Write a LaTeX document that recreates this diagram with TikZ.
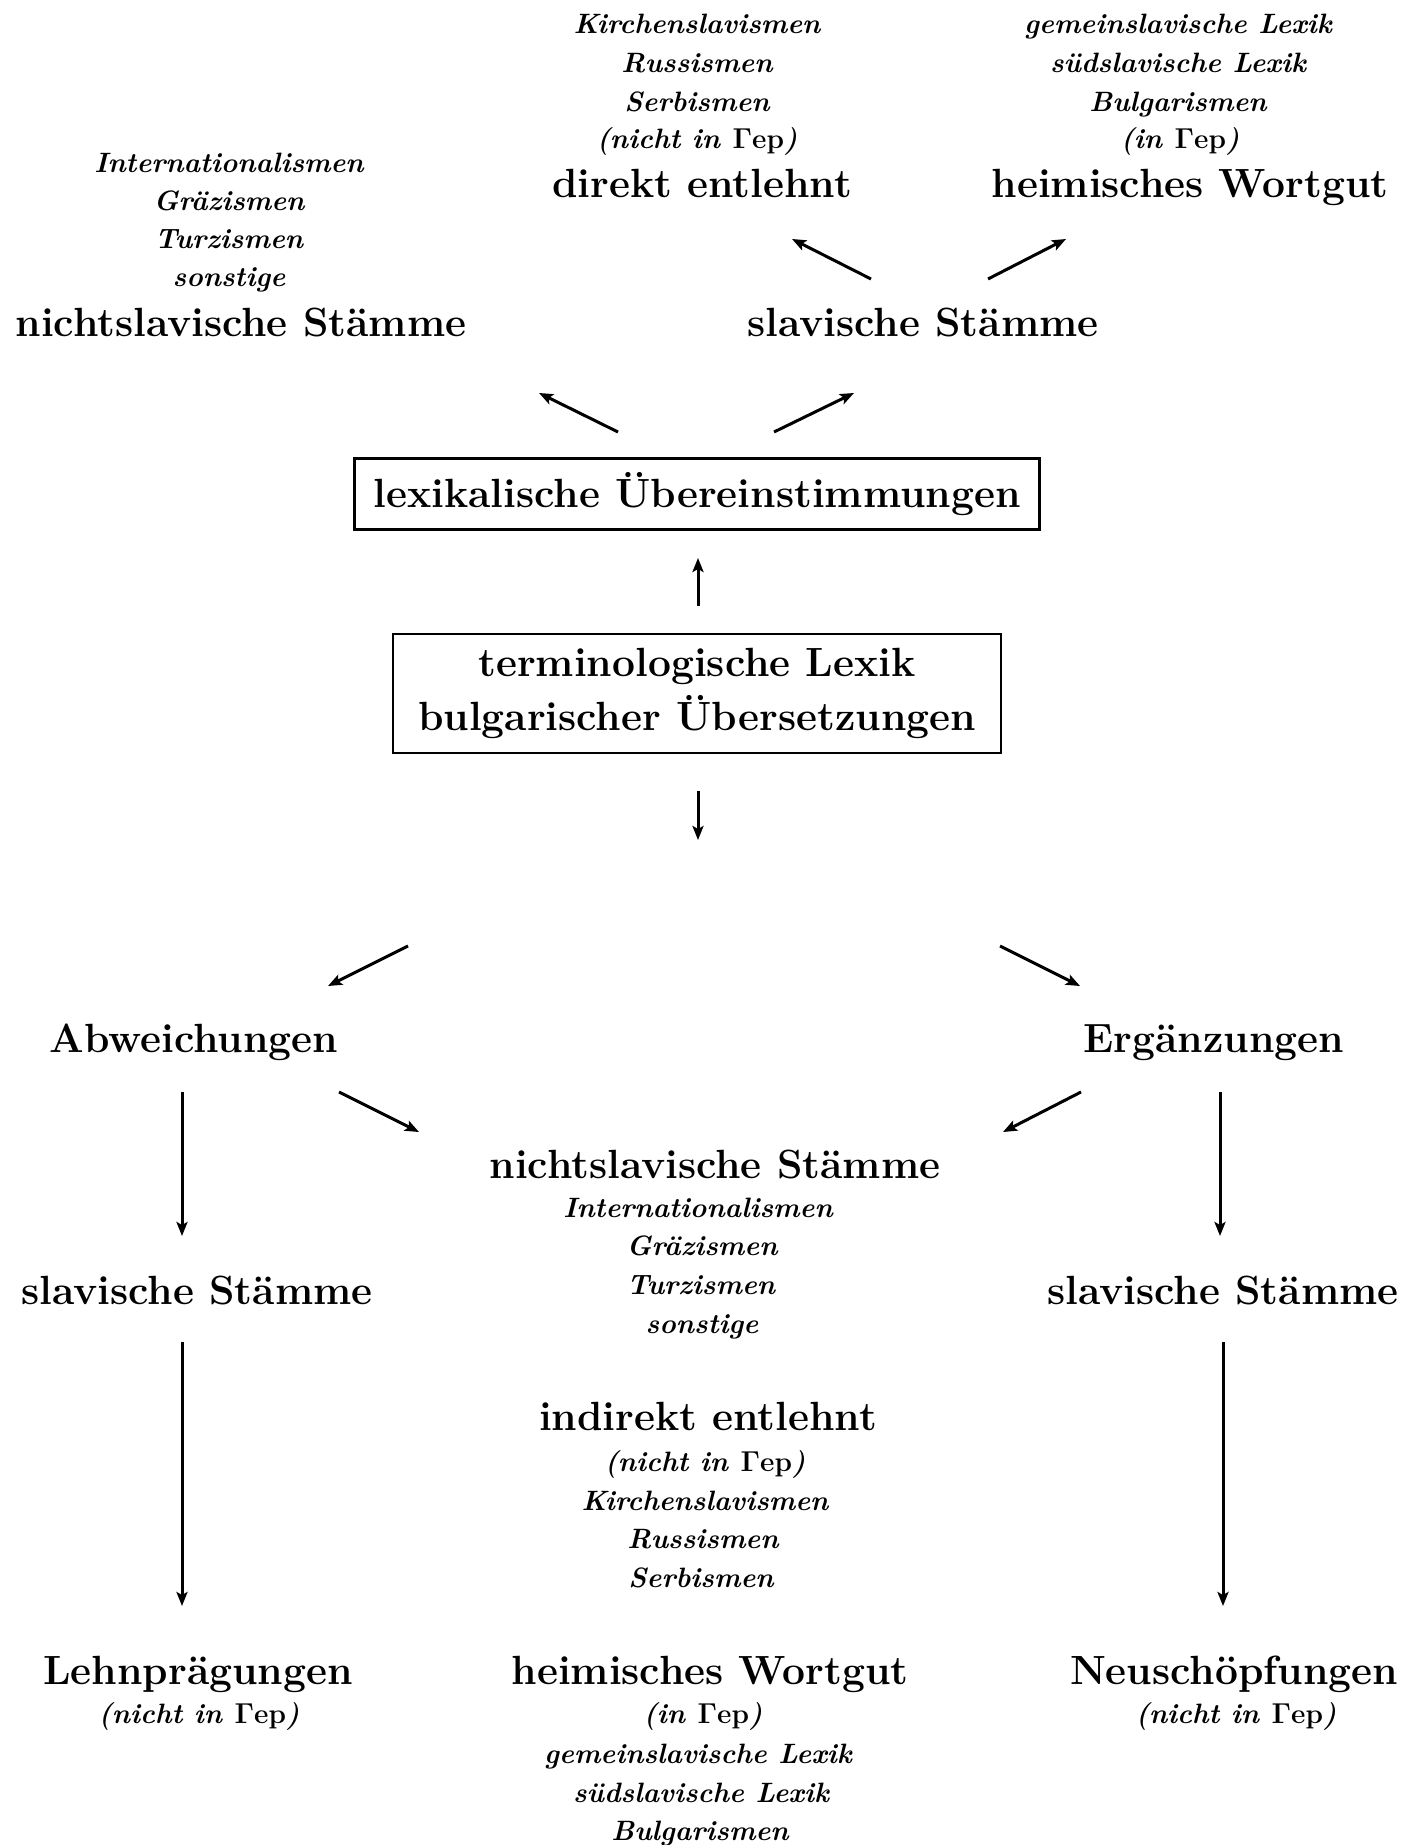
\documentclass[tikz,border=0pt]{standalone}
\usetikzlibrary{arrows.meta}
\newcommand{\Gep}{\textup{$\mathbf{\Gamma}$ep}}
\tikzset{
  big/.style={font=\fontsize{20.4}{24}\selectfont\bfseries, inner sep=0pt, anchor=base},
  small/.style={font=\fontsize{14}{17}\selectfont\bfseries\itshape, inner sep=0pt, anchor=base},
  box/.style={draw, line width=1.4pt, font=\fontsize{20.4}{27}\selectfont\bfseries,
    align=center, inner sep=0pt},
  arr/.style={-{Stealth[length=7pt,width=5.5pt,inset=1.5pt]}, line width=1.5pt},
}
\begin{document}
\begin{tikzpicture}[x=0.5pt, y=-0.5pt]
\useasboundingbox (0,0) rectangle (1418,1845);

% upper half: slavic / non-slavic stems
\node[small] (tl1) at (229,173) {Internationalismen};
\node[small] (tl2) at (229,211) {Gräzismen};
\node[small] (tl3) at (229,249) {Turzismen};
\node[small] (tl4) at (229,287) {sonstige};
\node[big]   (nsTop) at (241,337) {nichtslavische Stämme};

\node[small] (dm1) at (697,34)  {Kirchenslavismen};
\node[small] (dm2) at (697,73)  {Russismen};
\node[small] (dm3) at (697,112) {Serbismen};
\node[small] (dm4) at (697,149) {(nicht in \Gep)};
\node[big]   (direkt) at (702,198) {direkt entlehnt};

\node[small] (hr1) at (1178,34)  {gemeinslavische Lexik};
\node[small] (hr2) at (1178,73)  {südslavische Lexik};
\node[small] (hr3) at (1178,112) {Bulgarismen};
\node[small] (hr4) at (1180,149) {(in \Gep)};
\node[big]   (heimTop) at (1190,198) {heimisches Wortgut};

\node[big] (slTop) at (923,337) {slavische Stämme};

% boxes
\node[box, minimum width=342.5pt, minimum height=35.5pt] (lex) at (697,494)
  {lexikalische Übereinstimmungen};
\node[box, minimum width=304pt, minimum height=59.5pt] (term) at (697,693.5)
  {terminologische Lexik\\bulgarischer Übersetzungen};

% lower half
\node[big] (abw) at (194,1052) {Abweichungen};
\node[big] (erg) at (1214,1052) {Ergänzungen};

\node[big]   (nsMid) at (715,1178) {nichtslavische Stämme};
\node[small] (nm1) at (698,1217) {Internationalismen};
\node[small] (nm2) at (702,1255) {Gräzismen};
\node[small] (nm3) at (701,1294) {Turzismen};
\node[small] (nm4) at (702,1333) {sonstige};

\node[big] (slL) at (197,1304) {slavische Stämme};
\node[big] (slR) at (1223,1304) {slavische Stämme};

\node[big]   (indirekt) at (708,1430) {indirekt entlehnt};
\node[small] (im1) at (705,1471) {(nicht in \Gep)};
\node[small] (im2) at (705,1510) {Kirchenslavismen};
\node[small] (im3) at (703,1548) {Russismen};
\node[small] (im4) at (701,1587) {Serbismen};

\node[big]   (lehn) at (198,1684) {Lehnprägungen};
\node[small] (lehn1) at (199,1723) {(nicht in \Gep)};

\node[big]   (heimBot) at (710,1684) {heimisches Wortgut};
\node[small] (hb1) at (703,1723) {(in \Gep)};
\node[small] (hb2) at (698,1763) {gemeinslavische Lexik};
\node[small] (hb3) at (701,1802) {südslavische Lexik};
\node[small] (hb4) at (700,1840) {Bulgarismen};

\node[big]   (neu) at (1234,1684) {Neuschöpfungen};
\node[small] (neu1) at (1236,1723) {(nicht in \Gep)};

% arrow end points
\coordinate (s1) at (871,279);  \coordinate (e1) at (792,239);
\coordinate (s2) at (988,279);  \coordinate (e2) at (1066,239);
\coordinate (s3) at (618,432);  \coordinate (e3) at (539,393);
\coordinate (s4) at (774,432);  \coordinate (e4) at (854,393);
\coordinate (s5) at (698,606);  \coordinate (e5) at (698,558);
\coordinate (s6) at (698,791);  \coordinate (e6) at (698,840);
\coordinate (s7) at (408,946);  \coordinate (e7) at (328,986);
\coordinate (s8) at (1000,946); \coordinate (e8) at (1080,986);
\coordinate (s9) at (339,1092); \coordinate (e9) at (419,1132);
\coordinate (s10) at (1081,1092); \coordinate (e10) at (1003,1132);
\coordinate (s11) at (182,1092); \coordinate (e11) at (182,1236);
\coordinate (s12) at (1220,1092); \coordinate (e12) at (1220,1236);
\coordinate (s13) at (182,1342); \coordinate (e13) at (182,1606);
\coordinate (s14) at (1223,1342); \coordinate (e14) at (1223,1606);

\foreach \i in {1,...,14} \draw[arr] (s\i) -- (e\i);
\end{tikzpicture}
\end{document}
